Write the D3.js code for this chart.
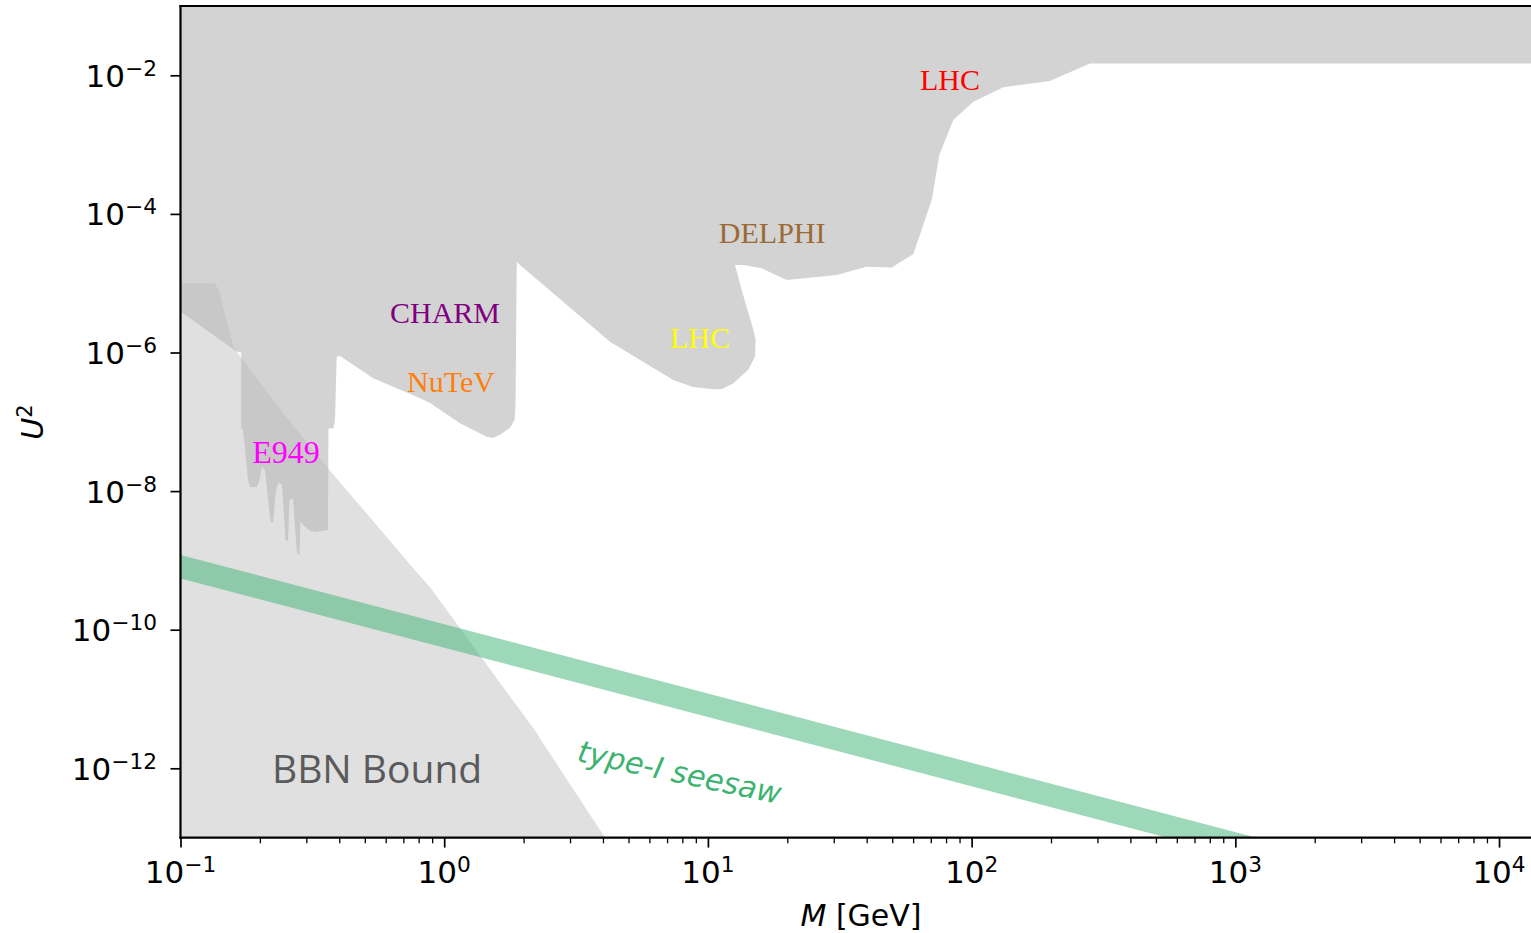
<!DOCTYPE html>
<html>
<head>
<meta charset="utf-8">
<script src="https://cdn.jsdelivr.net/npm/d3@7"></script>
<style>
  body { margin: 0; background: #fff; }
</style>
</head>
<body>
<div id="chart"></div>
<script>
// lower edge of the combined beam-dump / collider exclusion, [M (GeV), U^2]
const excludedEdge = [
  [0.08, 3.9e-6], [0.1, 3.9e-6], [0.163, 1.03e-6], [0.170, 1.0e-6], [0.170, 8.1e-8],
  [0.1726, 7.6e-8], [0.1803, 1.45e-8], [0.1835, 1.15e-8], [0.195, 1.15e-8], [0.1993, 1.45e-8],
  [0.2037, 2.25e-8], [0.2091, 2.0e-8], [0.2194, 3.6e-9], [0.2243, 3.5e-9], [0.2302, 1.04e-8],
  [0.2352, 1.31e-8], [0.2426, 1.23e-8], [0.2501, 1.97e-9], [0.2557, 1.9e-9], [0.259, 7.4e-9],
  [0.267, 7.9e-9], [0.2765, 1.28e-9], [0.2826, 1.2e-9], [0.2851, 3.6e-9], [0.2939, 3.2e-9],
  [0.3098, 2.65e-9], [0.3236, 2.57e-9], [0.3624, 2.75e-9], [0.364, 8.0e-8], [0.3803, 8.1e-8],
  [0.3854, 1.06e-7], [0.3911, 8.7e-7], [0.4027, 8.9e-7], [0.538, 4.25e-7], [0.787, 2.3e-7],
  [0.884, 1.87e-7], [1.148, 9.5e-8], [1.449, 6.1e-8], [1.531, 5.9e-8], [1.627, 6.5e-8],
  [1.777, 8.2e-8], [1.848, 1.06e-7], [1.864, 1.75e-7], [1.884, 2.04e-5], [1.938, 1.83e-5],
  [4.255, 1.43e-6], [5.53, 7.8e-7], [7.39, 4.0e-7], [8.78, 3.18e-7], [10.48, 2.94e-7],
  [11.31, 2.97e-7], [12.48, 3.6e-7], [14.19, 5.6e-7], [15.09, 8.7e-7], [15.16, 1.51e-6],
  [14.87, 2.11e-6], [13.43, 8.0e-6], [12.67, 1.83e-5], [13.62, 1.83e-5], [16.0, 1.64e-5],
  [19.9, 1.11e-5], [30.8, 1.31e-5], [40.0, 1.73e-5], [49.8, 1.69e-5], [60.1, 2.64e-5],
  [70.6, 1.59e-4], [75.4, 7.1e-4], [85.2, 2.26e-3], [101.5, 4.16e-3], [131.9, 6.7e-3],
  [198, 8.3e-3], [281, 1.48e-2], [30000, 1.48e-2]
];

// upper edge of the BBN excluded region
const bbnEdge = [
  [0.08, 1.0e-5], [0.135, 1.0e-5], [0.1405, 7.6e-6], [0.1449, 4.6e-6], [0.1514, 2.4e-6],
  [0.1581, 1.28e-6], [0.1633, 1.03e-6], [0.2447, 1.34e-7], [0.3584, 2.25e-8], [0.7616, 7.8e-10],
  [0.8835, 4.1e-10], [2.248, 3.2e-12], [2.328, 2.56e-12], [4.07, 1.0e-13], [4.5, 5e-14]
];

// type-I seesaw band U^2 ~ m_nu / M
const seesawMass = [0.1, 20000];
const seesawLow = [5.5e-10, 2.75e-15];
const seesawHigh = [1.2e-9, 6.0e-15];

// experiment labels
const expNames = ['CHARM', 'NuTeV', 'E949', 'LHC', 'DELPHI', 'LHC'];
const expMass = [0.623, 0.723, 0.187, 7.18, 11.0, 63.7];
const expU2 = [2.67e-6, 2.72e-7, 2.52e-8, 1.15e-6, 3.84e-5, 6.14e-3];
const expColors = ['purple', '#ff7f0e', 'magenta', 'yellow', '#9c6a35', 'red'];

// axis ticks
const xMajor = [0.1, 1, 10, 100, 1000, 10000];
const yMajor = [1e-12, 1e-10, 1e-8, 1e-6, 1e-4, 1e-2];

const W = 1531, H = 933;
const pLeft = 180.5, pRight = 1541.5, pTop = 6, pBottom = 837.6;

const svg = d3.select('#chart').append('svg')
  .attr('width', W).attr('height', H)
  .style('font-family', '"DejaVu Sans", sans-serif');

const x = d3.scaleLog().domain([0.1, 14490]).range([pLeft, pRight]);
const y = d3.scaleLog().domain([1e-13, 1e-1]).range([pBottom, pTop]);

svg.append('clipPath').attr('id', 'plot')
  .append('rect').attr('x', pLeft).attr('y', pTop)
  .attr('width', pRight - pLeft).attr('height', pBottom - pTop);

const plot = svg.append('g').attr('clip-path', 'url(#plot)');
const line = d3.line().x(d => x(d[0])).y(d => y(d[1]));

// main excluded region
plot.append('path')
  .attr('d', line(excludedEdge.concat([[30000, 1], [0.05, 1]])) + 'Z')
  .attr('fill', '#d3d3d3');

// BBN region (semi transparent on top)
plot.append('path')
  .attr('d', line(bbnEdge.concat([[0.05, 5e-14]])) + 'Z')
  .attr('fill', 'rgb(187,187,187)')
  .attr('fill-opacity', 0.4545);

// seesaw band
const idx = d3.range(seesawMass.length);
plot.append('path')
  .attr('d', d3.area()
    .x(i => x(seesawMass[i]))
    .y0(i => y(seesawLow[i]))
    .y1(i => y(seesawHigh[i]))(idx))
  .attr('fill', 'mediumseagreen')
  .attr('fill-opacity', 0.5);

// experiment labels
expNames.forEach((name, i) => {
  plot.append('text')
    .attr('x', x(expMass[i])).attr('y', y(expU2[i]))
    .attr('font-family', '"Liberation Serif", serif')
    .attr('font-size', name === 'E949' ? 32 : 30)
    .attr('fill', expColors[i])
    .text(name);
});

plot.append('text')
  .attr('x', x(0.2223)).attr('y', y(6.07e-13))
  .attr('font-family', '"Open Sans", sans-serif')
  .attr('font-size', 39)
  .attr('fill', '#5a5a5a')
  .text('BBN Bound');

plot.append('text')
  .attr('transform', `translate(${x(3.16)},${y(1.27e-12)}) rotate(12)`)
  .attr('font-size', 30)
  .attr('font-style', 'italic')
  .attr('fill', 'mediumseagreen')
  .text('type-I seesaw');

// axes
const xMinor = [];
for (let e = -1; e <= 4; e++) for (let k = 2; k <= 9; k++) xMinor.push(k * Math.pow(10, e));

const xAx = svg.append('g').attr('transform', `translate(0,${pBottom})`)
  .call(d3.axisBottom(x).tickValues(xMajor).tickSize(10).tickSizeOuter(0).tickFormat(''));
xAx.selectAll('line').attr('stroke-width', 1.7);
const xMin = svg.append('g').attr('transform', `translate(0,${pBottom})`)
  .call(d3.axisBottom(x).tickValues(xMinor).tickSize(5.7).tickSizeOuter(0).tickFormat(''));
xMin.selectAll('line').attr('stroke-width', 1.3);

const yAx = svg.append('g').attr('transform', `translate(${pLeft},0)`)
  .call(d3.axisLeft(y).tickValues(yMajor).tickSize(10).tickSizeOuter(0).tickFormat(''));
yAx.selectAll('line').attr('stroke-width', 1.7);
svg.selectAll('.domain').remove();

function powLabel(t, v) {
  const e = Math.round(Math.log10(v));
  t.append('tspan').text('10');
  t.append('tspan').attr('dy', -11).attr('font-size', 21.7)
    .text(e < 0 ? '\u2212' + (-e) : String(e));
}

xMajor.forEach(v => {
  const t = svg.append('text')
    .attr('x', x(v)).attr('y', 883)
    .attr('text-anchor', 'middle')
    .attr('font-size', 31);
  powLabel(t, v);
});

yMajor.forEach(v => {
  const t = svg.append('text')
    .attr('x', 157).attr('y', y(v) + 11.5)
    .attr('text-anchor', 'end')
    .attr('font-size', 31);
  powLabel(t, v);
});

// spines
svg.append('g').attr('stroke', '#000').attr('stroke-width', 2.2)
  .selectAll('line')
  .data([[pLeft, pTop, pLeft, pBottom], [pLeft, pBottom, pRight, pBottom], [pLeft, pTop, pRight, pTop], [pRight, pTop, pRight, pBottom]])
  .join('line')
  .attr('x1', d => d[0]).attr('y1', d => d[1])
  .attr('x2', d => d[2]).attr('y2', d => d[3])
  .attr('stroke-linecap', 'square');

// axis titles
const xl = svg.append('text')
  .attr('x', 861).attr('y', 926)
  .attr('text-anchor', 'middle')
  .attr('font-size', 30);
xl.append('tspan').attr('font-style', 'italic').text('M');
xl.append('tspan').text(' [GeV]');

const yl = svg.append('text')
  .attr('transform', 'translate(43,422) rotate(-90)')
  .attr('text-anchor', 'middle')
  .attr('font-size', 30);
yl.append('tspan').attr('font-style', 'italic').text('U');
yl.append('tspan').attr('dy', -11).attr('font-size', 21).text('2');
</script>
</body>
</html>
